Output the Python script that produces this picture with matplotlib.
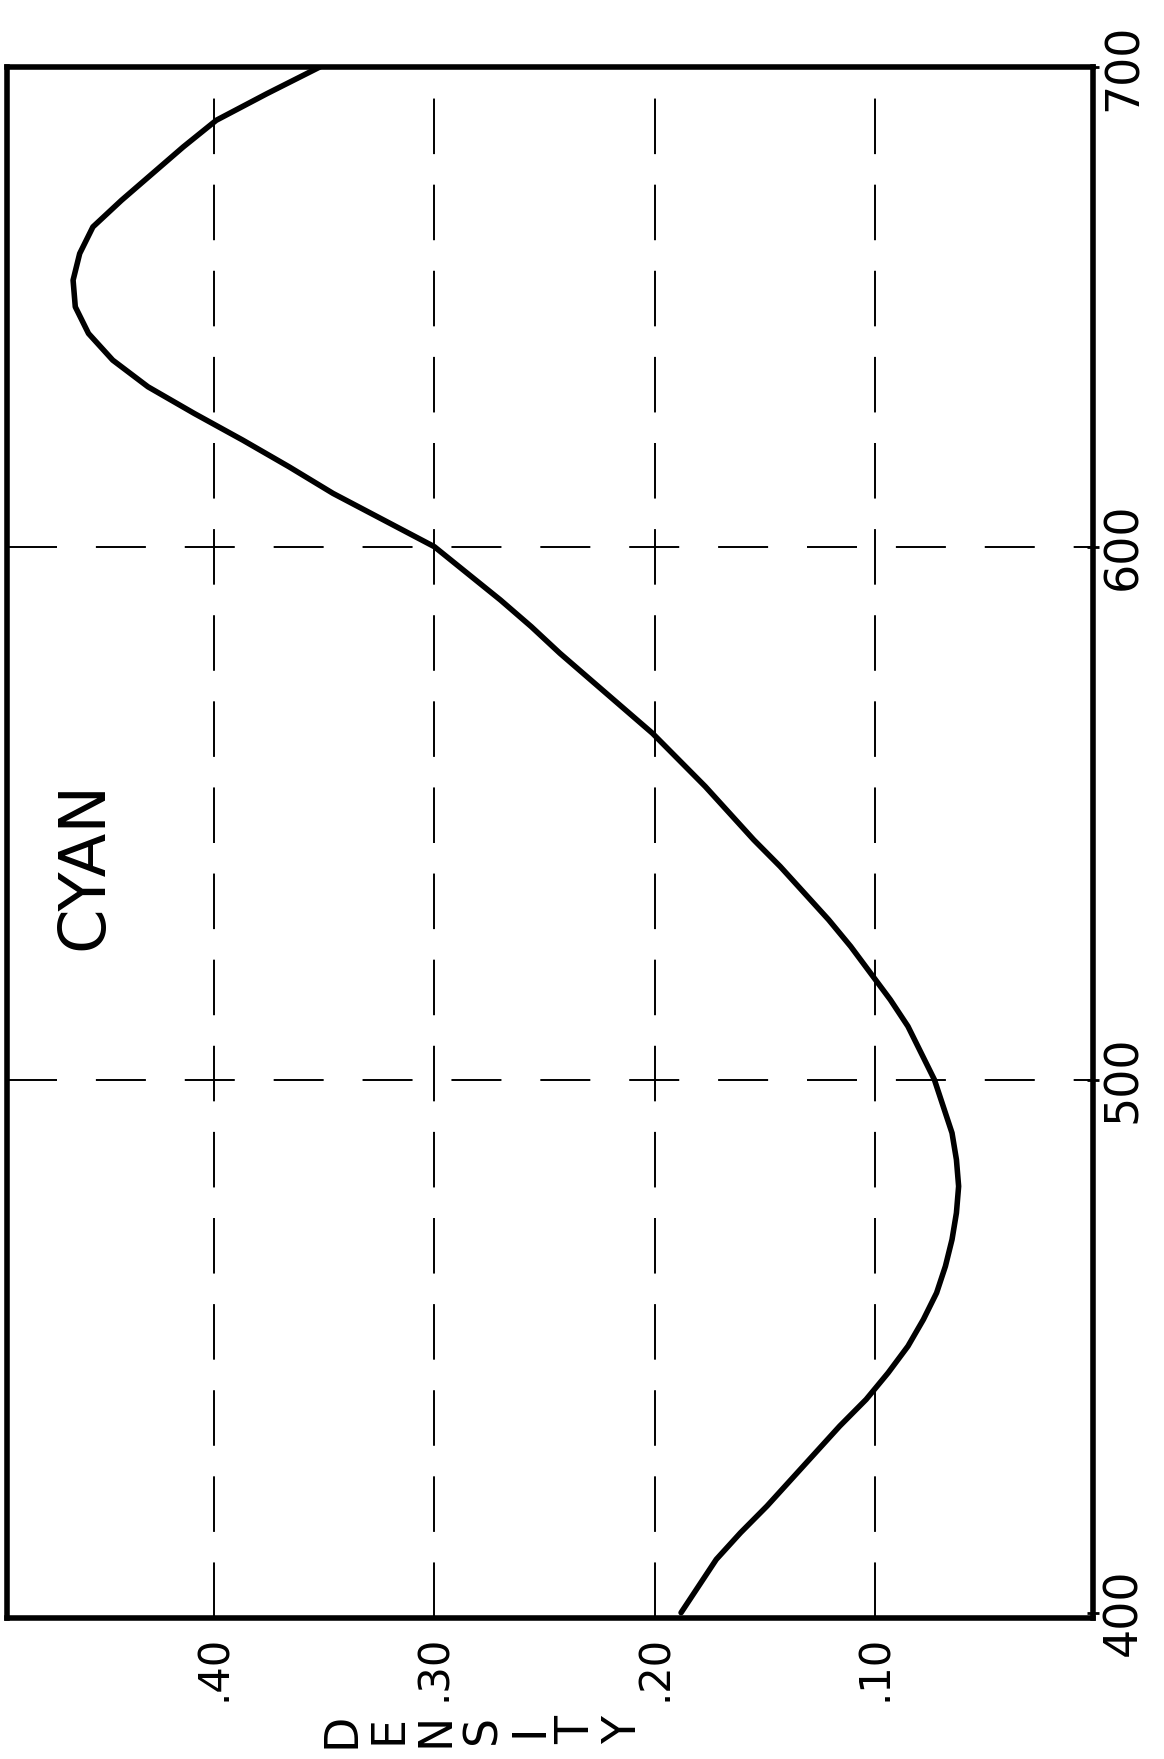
import matplotlib

matplotlib.use("Agg")
import matplotlib.pyplot as plt


# readings: wavelength (nm) against density
WAVELENGTH = [400, 405, 410, 415, 420, 425, 430, 435, 440, 445,
              450, 455, 460, 465, 470, 475, 480, 485, 490, 495,
              500, 505, 510, 515, 520, 525, 530, 535, 540, 545,
              550, 555, 560, 565, 570, 575, 580, 585, 590, 595,
              600, 605, 610, 615, 620, 625, 630, 635, 640, 645,
              650, 655, 660, 665, 670, 675, 680, 685, 690]
DENSITY = [0.188, 0.180, 0.172, 0.161, 0.149, 0.138, 0.127, 0.116, 0.104, 0.094,
           0.085, 0.078, 0.072, 0.068, 0.065, 0.063, 0.062, 0.063, 0.065, 0.069,
           0.073, 0.079, 0.085, 0.093, 0.102, 0.111, 0.121, 0.132, 0.143, 0.155,
           0.166, 0.177, 0.189, 0.201, 0.215, 0.229, 0.243, 0.256, 0.270, 0.285,
           0.300, 0.323, 0.346, 0.366, 0.387, 0.409, 0.430, 0.446, 0.457, 0.463,
           0.464, 0.461, 0.455, 0.442, 0.428, 0.414, 0.399, 0.376, 0.352]

DENSITY_TICKS = [0.10, 0.20, 0.30, 0.40]
DENSITY_LABELS = [".10", ".20", ".30", ".40"]
WAVE_GRID = [500, 600]
WAVE_TICKS = [400, 500, 600, 690]
WAVE_LABELS = ["400", "500", "600", "700"]
TITLE = "CYAN"
AXIS_NAME = "DENSITY"

W, H = 1164, 1759

plt.rcParams["lines.scale_dashes"] = False


def main() -> None:
    fig = plt.figure(figsize=(W / 100, H / 100), dpi=100)
    fig.patch.set_facecolor("white")
    ax = fig.add_axes([7 / W, 1 - 1618 / H, (1093 - 7) / W, (1618 - 67) / H])

    # chart is drawn turned a quarter turn: density runs right-to-left, wavelength bottom-to-top
    ax.set_xlim(0.494, 0.001)
    ax.set_ylim(399, 690)

    for d in DENSITY_TICKS:
        ax.axvline(d, color="black", lw=1.4, dashes=(40, 22))
    for w in WAVE_GRID:
        ax.axhline(w, color="black", lw=1.4, dashes=(36, 28))

    ax.plot(DENSITY, WAVELENGTH, color="black", lw=4.0,
            solid_capstyle="round", solid_joinstyle="round")

    for spine in ax.spines.values():
        spine.set_linewidth(4)

    ax.set_xticks(DENSITY_TICKS)
    ax.set_xticklabels(DENSITY_LABELS, rotation=90, fontsize=30)
    ax.tick_params(axis="x", length=0, pad=12)

    ax.yaxis.tick_right()
    ax.set_yticks(WAVE_TICKS)
    ax.set_yticklabels(WAVE_LABELS, rotation=90, fontsize=33, va="center")
    ax.tick_params(axis="y", direction="inout", length=8, width=2, pad=2)

    ax.text(0.071, 0.485, TITLE, transform=ax.transAxes, rotation=90,
            ha="center", va="center", fontsize=46)

    # axis name written as letters each turned on its side
    for i, ch in enumerate(AXIS_NAME):
        fig.text((342 + 47 * i) / W, 1 - 1730 / H, ch, rotation=90,
                 ha="center", va="center", fontsize=33)

    fig.savefig("out.png", dpi=100, facecolor="white")


if __name__ == "__main__":
    main()
